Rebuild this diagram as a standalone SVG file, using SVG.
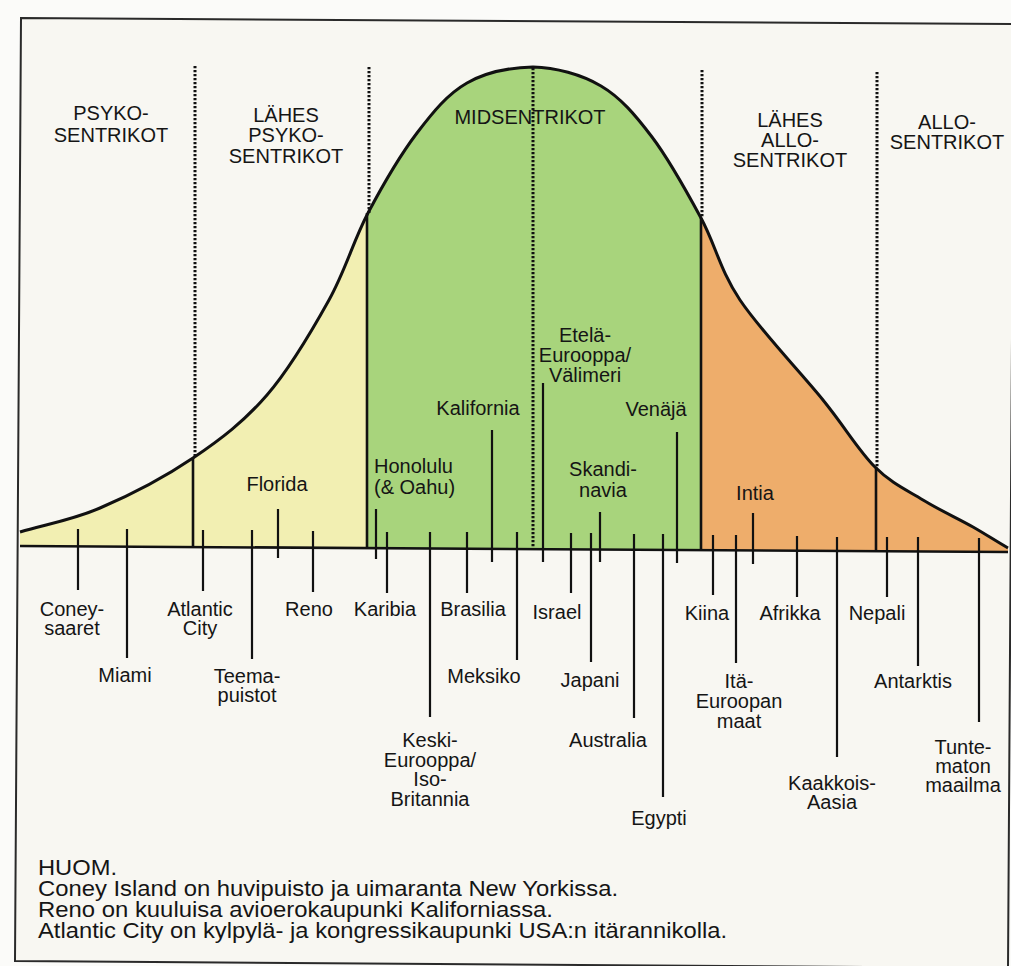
<svg xmlns="http://www.w3.org/2000/svg" width="1011" height="966" viewBox="0 0 1011 966">
<defs>
<style>
text{font-family:"Liberation Sans",Arial,sans-serif;fill:#151515}
.lb{font-size:20px;text-anchor:middle}
.hd{font-size:20px;text-anchor:middle}
.fn{font-size:22px}
.tick{stroke:#111;stroke-width:2.2;fill:none}
.solid{stroke:#111;stroke-width:2.6;fill:none}
.dot{stroke:#111;stroke-width:3;stroke-dasharray:2.2 1.8;fill:none}
</style>
<clipPath id="under">
<path d="M20,532 C46.7,524 71.2,520.3 100,508 C128.8,495.7 165.2,476.8 193,458 C220.8,439.2 244.3,421.3 267,395 C289.7,368.7 312.2,330.3 329,300 C345.8,269.7 353.3,240.8 368,213 C382.7,185.2 400.5,154.7 417,133 C433.5,111.3 447.7,94 467,83 C486.3,72 510.7,67.5 533,67 C555.3,67.5 581.2,74.3 601,86 C620.8,97.7 635.3,115 652,137 C668.7,159 686.3,190.8 701,218 C715.7,245.2 719.7,269.7 740,300 C760.3,330.3 800.5,372.2 823,400 C845.5,427.8 858.3,450.3 875,467 C891.7,483.7 906.7,490 923,500 C939.3,510 959,519 973,527 C987,535 995.7,541 1008,548 L1008,552 L20,546 Z"/>
</clipPath>
</defs>
<rect x="0" y="0" width="1011" height="966" fill="#fbfbf9"/>
<g id="frame">
<polygon points="21,18 1014,24 1008,968 15,961" fill="#f8f7f2" stroke="#2a2a2a" stroke-width="2"/>
</g>
<g id="regions" clip-path="url(#under)">
<rect x="10" y="40" width="357" height="520" fill="#f2efb2"/>
<rect x="367" y="40" width="334" height="520" fill="#a8d47c"/>
<rect x="701" y="40" width="310" height="520" fill="#eead6b"/>
</g>
<g id="curve">
<path d="M20,532 C46.7,524 71.2,520.3 100,508 C128.8,495.7 165.2,476.8 193,458 C220.8,439.2 244.3,421.3 267,395 C289.7,368.7 312.2,330.3 329,300 C345.8,269.7 353.3,240.8 368,213 C382.7,185.2 400.5,154.7 417,133 C433.5,111.3 447.7,94 467,83 C486.3,72 510.7,67.5 533,67 C555.3,67.5 581.2,74.3 601,86 C620.8,97.7 635.3,115 652,137 C668.7,159 686.3,190.8 701,218 C715.7,245.2 719.7,269.7 740,300 C760.3,330.3 800.5,372.2 823,400 C845.5,427.8 858.3,450.3 875,467 C891.7,483.7 906.7,490 923,500 C939.3,510 959,519 973,527 C987,535 995.7,541 1008,548" fill="none" stroke="#111" stroke-width="3"/>
</g>
<g id="dividers">
<line class="dot" x1="195" y1="66" x2="195" y2="458"/>
<line class="solid" x1="193" y1="458" x2="193" y2="547"/>
<line class="dot" x1="369" y1="67" x2="369" y2="213"/>
<line class="solid" x1="367" y1="213" x2="367" y2="548"/>
<line class="dot" x1="533" y1="68" x2="533" y2="549"/>
<line class="dot" x1="702" y1="70" x2="702" y2="218"/>
<line class="solid" x1="701" y1="218" x2="701" y2="550"/>
<line class="dot" x1="877" y1="72" x2="877" y2="467"/>
<line class="solid" x1="876" y1="467" x2="876" y2="551"/>
</g>
<g id="axis">
<line x1="20" y1="546" x2="1008" y2="552" stroke="#111" stroke-width="2.6"/>
</g>
<g id="connectors">
<line class="tick" x1="78" y1="529" x2="78" y2="590"/>
<line class="tick" x1="127" y1="529" x2="127" y2="658"/>
<line class="tick" x1="203" y1="530" x2="203" y2="591"/>
<line class="tick" x1="252" y1="530" x2="252" y2="659"/>
<line class="tick" x1="278" y1="509" x2="278" y2="558"/>
<line class="tick" x1="313" y1="531" x2="313" y2="592"/>
<line class="tick" x1="376" y1="509" x2="376" y2="559"/>
<line class="tick" x1="387" y1="532" x2="387" y2="593"/>
<line class="tick" x1="430" y1="532" x2="430" y2="717"/>
<line class="tick" x1="467" y1="532" x2="467" y2="593"/>
<line class="tick" x1="492" y1="430" x2="492" y2="562"/>
<line class="tick" x1="517" y1="532" x2="517" y2="660"/>
<line class="tick" x1="543" y1="383" x2="543" y2="562"/>
<line class="tick" x1="571" y1="533" x2="571" y2="593"/>
<line class="tick" x1="591" y1="533" x2="591" y2="662"/>
<line class="tick" x1="600" y1="512" x2="600" y2="562"/>
<line class="tick" x1="634" y1="534" x2="634" y2="718"/>
<line class="tick" x1="663" y1="534" x2="663" y2="797"/>
<line class="tick" x1="677" y1="432" x2="677" y2="563"/>
<line class="tick" x1="713" y1="535" x2="713" y2="595"/>
<line class="tick" x1="736" y1="535" x2="736" y2="663"/>
<line class="tick" x1="753" y1="513" x2="753" y2="564"/>
<line class="tick" x1="797" y1="536" x2="797" y2="597"/>
<line class="tick" x1="837" y1="537" x2="837" y2="757"/>
<line class="tick" x1="887" y1="537" x2="887" y2="597"/>
<line class="tick" x1="918" y1="537" x2="918" y2="666"/>
<line class="tick" x1="979" y1="538" x2="979" y2="722"/>
</g>
<g id="headings">
<g id="h-psyko"><text class="hd"><tspan x="111" y="120">PSYKO-</tspan><tspan x="111" y="142">SENTRIKOT</tspan></text></g>
<g id="h-lahes-psyko"><text class="hd"><tspan x="286" y="122">LÄHES</tspan><tspan x="286" y="142">PSYKO-</tspan><tspan x="286" y="163">SENTRIKOT</tspan></text></g>
<g id="h-mid"><text class="hd" x="530" y="124">MIDSENTRIKOT</text></g>
<g id="h-lahes-allo"><text class="hd"><tspan x="790" y="127">LÄHES</tspan><tspan x="790" y="147">ALLO-</tspan><tspan x="790" y="167">SENTRIKOT</tspan></text></g>
<g id="h-allo"><text class="hd"><tspan x="947" y="129">ALLO-</tspan><tspan x="947" y="149">SENTRIKOT</tspan></text></g>
</g>
<g id="labels">
<g id="n-coney"><text class="lb"><tspan x="72" y="616">Coney-</tspan><tspan x="72" y="635">saaret</tspan></text></g>
<g id="n-miami"><text class="lb" x="125" y="682">Miami</text></g>
<g id="n-atlantic"><text class="lb"><tspan x="200" y="616">Atlantic</tspan><tspan x="200" y="635">City</tspan></text></g>
<g id="n-teema"><text class="lb"><tspan x="247" y="683">Teema-</tspan><tspan x="247" y="702">puistot</tspan></text></g>
<g id="n-florida"><text class="lb" x="277" y="491">Florida</text></g>
<g id="n-reno"><text class="lb" x="309" y="616">Reno</text></g>
<g id="n-honolulu"><text style="font-size:20px"><tspan x="374" y="473">Honolulu</tspan><tspan x="374" y="494">(&amp; Oahu)</tspan></text></g>
<g id="n-karibia"><text class="lb" x="385" y="616">Karibia</text></g>
<g id="n-keski"><text class="lb"><tspan x="430" y="747">Keski-</tspan><tspan x="430" y="767">Eurooppa/</tspan><tspan x="430" y="786">Iso-</tspan><tspan x="430" y="806">Britannia</tspan></text></g>
<g id="n-brasilia"><text class="lb" x="473" y="616">Brasilia</text></g>
<g id="n-kalifornia"><text class="lb" x="478" y="415">Kalifornia</text></g>
<g id="n-meksiko"><text class="lb" x="484" y="683">Meksiko</text></g>
<g id="n-etela"><text class="lb"><tspan x="585" y="342">Etelä-</tspan><tspan x="585" y="362">Eurooppa/</tspan><tspan x="585" y="382">Välimeri</tspan></text></g>
<g id="n-skandi"><text class="lb"><tspan x="603" y="476">Skandi-</tspan><tspan x="603" y="497">navia</tspan></text></g>
<g id="n-venaja"><text class="lb" x="656" y="416">Venäjä</text></g>
<g id="n-israel"><text class="lb" x="557" y="619">Israel</text></g>
<g id="n-japani"><text class="lb" x="590" y="687">Japani</text></g>
<g id="n-australia"><text class="lb" x="608" y="747">Australia</text></g>
<g id="n-egypti"><text class="lb" x="659" y="825">Egypti</text></g>
<g id="n-kiina"><text class="lb" x="707" y="620">Kiina</text></g>
<g id="n-ita"><text class="lb"><tspan x="739" y="688">Itä-</tspan><tspan x="739" y="708">Euroopan</tspan><tspan x="739" y="728">maat</tspan></text></g>
<g id="n-intia"><text class="lb" x="755" y="500">Intia</text></g>
<g id="n-afrikka"><text class="lb" x="790" y="620">Afrikka</text></g>
<g id="n-kaakkois"><text class="lb"><tspan x="832" y="790">Kaakkois-</tspan><tspan x="832" y="809">Aasia</tspan></text></g>
<g id="n-nepali"><text class="lb" x="877" y="620">Nepali</text></g>
<g id="n-antarktis"><text class="lb" x="913" y="688">Antarktis</text></g>
<g id="n-tunte"><text class="lb"><tspan x="963" y="754">Tunte-</tspan><tspan x="963" y="773">maton</tspan><tspan x="963" y="792">maailma</tspan></text></g>
</g>
<g id="footnote">
<text class="fn" x="38" y="875" textLength="79" lengthAdjust="spacingAndGlyphs">HUOM.</text>
<text class="fn" x="38" y="896" textLength="580" lengthAdjust="spacingAndGlyphs">Coney Island on huvipuisto ja uimaranta New Yorkissa.</text>
<text class="fn" x="38" y="917" textLength="515" lengthAdjust="spacingAndGlyphs">Reno on kuuluisa avioerokaupunki Kaliforniassa.</text>
<text class="fn" x="38" y="938" textLength="689" lengthAdjust="spacingAndGlyphs">Atlantic City on kylpylä- ja kongressikaupunki USA:n itärannikolla.</text>
</g>
</svg>
